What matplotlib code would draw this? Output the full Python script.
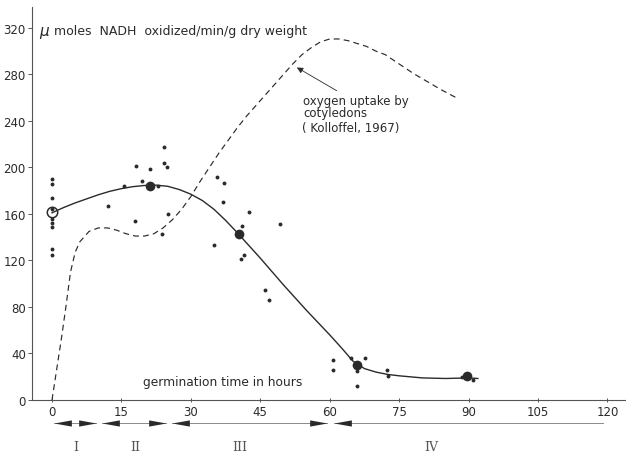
import matplotlib
matplotlib.use("Agg")
import matplotlib.pyplot as plt
import numpy as np

plt.rcParams['font.family'] = ['DejaVu Sans']

# NADH oxidation, individual measurements (hours, umol/min/g)
dots_h = [0, 0, 0, 0, 0, 0, 0, 0, 0,
          12.2, 15.6, 17.9, 18.1, 19.4, 21.2, 23.0, 23.7, 24.3, 24.3, 24.8, 25.1,
          35.0, 35.6, 36.9, 37.1, 41.1, 41.4, 40.9, 42.5, 46.1, 46.8, 49.2,
          60.8, 60.8, 64.6, 65.8, 65.9, 67.6, 72.4, 72.6, 88.6, 90.9]
dots_v = [190, 186, 174, 164, 156, 152, 149, 130, 125,
          167, 184, 154, 201, 188, 199, 184, 143, 218, 204, 200, 160,
          133, 192, 170, 187, 150, 125, 121, 162, 95, 86, 151,
          34, 26, 36, 25, 12, 36, 26, 21, 20, 17]

# means
mean_h = [21.1, 40.5, 65.9, 89.6]
mean_v = [184, 143, 30, 20.5]
open_h = [0]
open_v = [162]

# fitted curve through the means
fit_h = [0, 2.5, 5, 7.5, 10, 12.5, 15, 17.5, 20, 22.5, 25, 27.5, 30, 32.5, 35,
         37.5, 40, 42.5, 45, 47.5, 50, 52.5, 55, 57.5, 60, 62.5, 65, 67.5, 70,
         72.5, 75, 80, 85, 90, 92]
fit_v = [161, 165.5, 169.5, 173, 176.5, 179.5, 181.8, 183.5, 184.5, 184.8,
         183.8, 181, 177, 171.5, 164, 154.5, 144, 133, 122, 110.5, 99, 88, 77,
         66.5, 56, 45, 33.5, 27, 24, 22, 20.8, 19, 18.5, 19, 18.5]

# oxygen uptake by cotyledons (Kolloffel, 1967)
oxy_h = [0, 1, 2, 3, 4, 5, 6, 8, 10, 12, 14, 16, 18, 20, 22, 24, 26, 28, 30,
         32, 34, 36, 38, 40, 42, 44, 46, 48, 50, 52, 54, 56, 58, 60, 62, 64,
         66, 68, 70, 72, 75, 78, 81, 84, 87.8]
oxy_v = [0, 26, 52, 80, 110, 127, 136, 145, 148, 148, 146, 143, 141, 141, 143,
         148, 155, 164, 175, 188, 200, 212, 223, 234, 244, 253, 262, 271, 280,
         289, 297, 303, 308, 310.5, 310.5, 309, 306.5, 304, 300, 297, 289, 281,
         274, 267, 259]

# germination phases
phase_names = ["I", "II", "III", "IV"]
phase_start = [0.4, 10.8, 25.9, 60.9]
phase_end = [9.5, 24.6, 59.4, 119]
phase_label_h = [5.2, 18, 40.6, 82]

xticks = [0, 15, 30, 45, 60, 75, 90, 105, 120]
yticks = [0, 40, 80, 120, 160, 200, 240, 280, 320]

ink = "#2a2a2a"

fig = plt.figure(figsize=(6.26, 4.56), dpi=100)
ax = fig.add_axes([32 / 626, 55 / 456, 594 / 626, 393 / 456])
ax.set_xlim(-4.32, 124)
ax.set_ylim(0, 338)

ax.plot(oxy_h, oxy_v, color=ink, lw=0.85, dashes=(5, 3.5))
ax.plot(fit_h, fit_v, color=ink, lw=1.0)
ax.plot(dots_h, dots_v, 'o', color=ink, ms=2.8, mew=0)
ax.plot(mean_h, mean_v, 'o', color=ink, ms=7, mew=0)
ax.plot(open_h, open_v, 'o', mfc='none', mec=ink, ms=7.5, mew=1.1)

for s in ['top', 'right']:
    ax.spines[s].set_visible(False)
for s in ['left', 'bottom']:
    ax.spines[s].set_color("#555555")
    ax.spines[s].set_linewidth(0.8)

ax.set_xticks(xticks)
ax.set_yticks(yticks)
ax.tick_params(axis='both', colors="#555555", labelcolor=ink, labelsize=8.5,
               length=3, width=0.7)
ax.tick_params(axis='x', direction='inout', pad=2)
ax.tick_params(axis='y', pad=1.5)

ax.text(-2.8, 317.5, "μ", fontsize=11, style='italic', color=ink, va='center')
ax.text(0.5, 317.5, "moles  NADH  oxidized/min/g dry weight", fontsize=9,
        color=ink, va='center')
ax.text(19.7, 15.5, "germination time in hours", fontsize=8.8, color=ink,
        va='center')

# note and arrow for the oxygen curve
ax.annotate("", xy=(52.9, 286), xytext=(61.5, 266),
            arrowprops=dict(arrowstyle='-|>', color=ink, lw=0.6,
                            shrinkA=0, shrinkB=0, mutation_scale=9))
ax.text(54.3, 252.3, "oxygen uptake by\ncotyledons", fontsize=8.5, color=ink,
        va='center', linespacing=0.92)
ax.text(53.9, 234, "( Kolloffel, 1967)", fontsize=8.5, color=ink, va='center')

# phase arrows below the axis
tri_left = [(0, 0), (1, 0.18), (1, -0.18), (0, 0)]
tri_right = [(0, 0), (-1, 0.18), (-1, -0.18), (0, 0)]
yarr = -19.8
for i in range(len(phase_names)):
    ax.plot([phase_start[i], phase_end[i]], [yarr, yarr], color="#777777",
            lw=0.6, clip_on=False)
    ax.plot([phase_start[i]], [yarr], marker=tri_left, ms=25, color=ink,
            mew=0, clip_on=False)
    if i < len(phase_names) - 1:
        ax.plot([phase_end[i]], [yarr], marker=tri_right, ms=25, color=ink,
                mew=0, clip_on=False)
    ax.text(phase_label_h[i], -39.6, phase_names[i], fontsize=9,
            family='DejaVu Serif', color="#555555", ha='center', va='center')

fig.savefig("out.png", dpi=100, facecolor='white')
